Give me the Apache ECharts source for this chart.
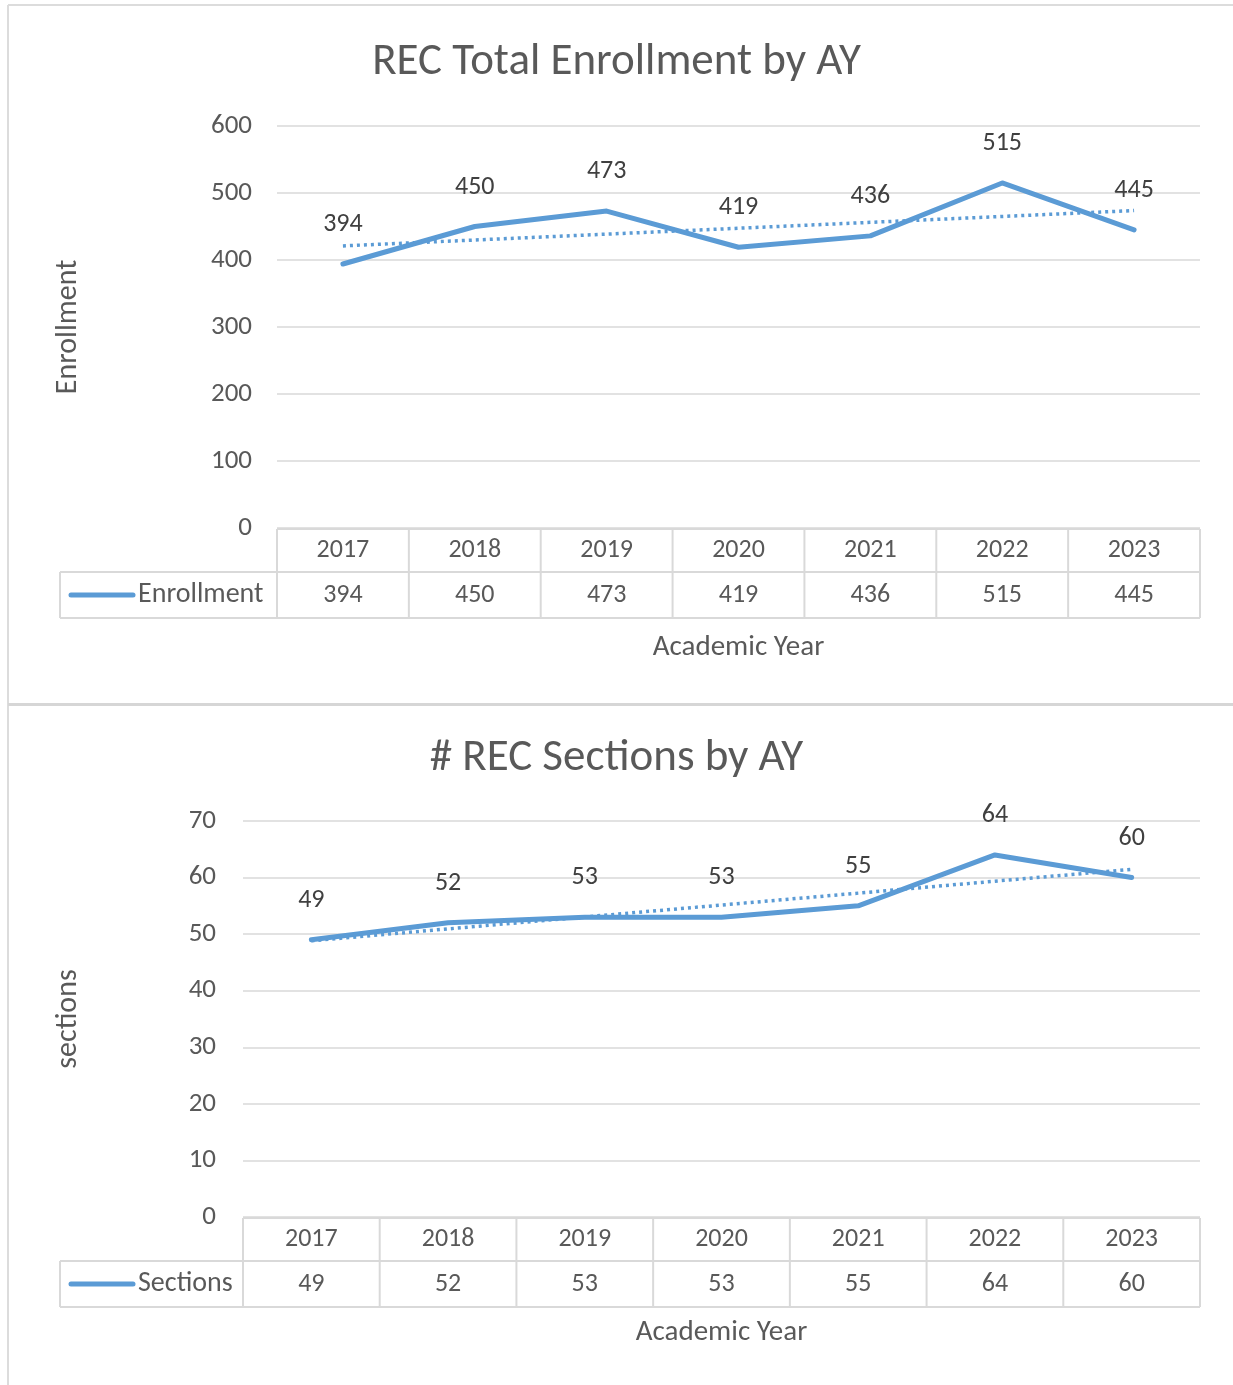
<!DOCTYPE html>
<html>
<head>
<meta charset="utf-8">
<script src="https://cdn.jsdelivr.net/npm/echarts@6/dist/echarts.min.js"></script>
<style>
  html, body { margin: 0; padding: 0; background: #fff; }
  #main { width: 1233px; height: 1385px; }
</style>
</head>
<body>
<div id="main"></div>
<script>
var years = ['2017', '2018', '2019', '2020', '2021', '2022', '2023'];
var enrollment = [394, 450, 473, 419, 436, 515, 445];
var sections = [49, 52, 53, 53, 55, 64, 60];

var FONT = 'Carlito, Calibri, Lato, sans-serif';
var BLUE = '#5B9BD5';
var GRID_GRAY = '#d9d9d9';

// linear trendline like Excel
function trend(vals) {
  var n = vals.length, sx = 0, sy = 0, sxy = 0, sxx = 0;
  vals.forEach(function (v, i) { sx += i; sy += v; sxy += i * v; sxx += i * i; });
  var b = (n * sxy - sx * sy) / (n * sxx - sx * sx);
  var a = (sy - b * sx) / n;
  return vals.map(function (v, i) { return +(a + b * i).toFixed(2); });
}

var chartDom = document.getElementById('main');
var myChart = echarts.init(chartDom);

function xAxisOpt(gridIndex, nameGap) {
  return {
    gridIndex: gridIndex,
    type: 'category',
    data: years,
    boundaryGap: true,
    axisLine: { show: false },
    axisTick: { show: false },
    axisLabel: { fontFamily: FONT, fontSize: 26, color: '#595959', margin: 9 },
    name: 'Academic Year',
    nameLocation: 'middle',
    nameGap: nameGap,
    nameTextStyle: { fontFamily: FONT, fontSize: 29, color: '#595959' }
  };
}

function yAxisOpt(gridIndex, max, interval, name, nameGap, margin) {
  return {
    gridIndex: gridIndex,
    type: 'value',
    min: 0,
    max: max,
    interval: interval,
    axisLine: { show: false },
    axisTick: { show: false },
    axisLabel: { fontFamily: FONT, fontSize: 27, color: '#595959', margin: margin },
    splitLine: { lineStyle: { color: GRID_GRAY, width: 1.5 } },
    name: name,
    nameLocation: 'middle',
    nameGap: nameGap,
    nameRotate: 90,
    nameTextStyle: { fontFamily: FONT, fontSize: 30, color: '#595959' }
  };
}

function mainSeries(idx, data) {
  return {
    type: 'line',
    xAxisIndex: idx,
    yAxisIndex: idx,
    data: data,
    symbol: 'circle',
    symbolSize: 1,
    itemStyle: { color: BLUE },
    z: 3,
    lineStyle: { color: BLUE, width: 5, cap: 'round', join: 'round' },
    label: {
      show: true,
      position: 'top',
      distance: 26,
      fontFamily: FONT,
      fontSize: 26,
      color: '#404040'
    }
  };
}

function trendSeries(idx, data) {
  return {
    type: 'line',
    xAxisIndex: idx,
    yAxisIndex: idx,
    data: trend(data),
    symbol: 'none',
    silent: true,
    z: 2,
    lineStyle: { color: BLUE, width: 3.5, type: [3, 4] }
  };
}

var option = {
  animation: false,
  backgroundColor: '#fff',
  title: [
    {
      text: 'REC Total Enrollment by AY',
      left: 'center',
      top: 35,
      textStyle: { fontFamily: FONT, fontSize: 45, fontWeight: 'normal', color: '#595959' }
    },
    {
      text: '# REC Sections by AY',
      left: 'center',
      top: 731,
      textStyle: { fontFamily: FONT, fontSize: 45, fontWeight: 'normal', color: '#595959' }
    }
  ],
  grid: [
    { left: 277, right: 33, top: 126, height: 402 },
    { left: 243, right: 33, top: 821, height: 396 }
  ],
  xAxis: [xAxisOpt(0, 105), xAxisOpt(1, 101)],
  yAxis: [
    yAxisOpt(0, 600, 100, 'Enrollment', 194, 25),
    yAxisOpt(1, 70, 10, 'sections', 160, 27)
  ],
  series: [
    trendSeries(0, enrollment),
    mainSeries(0, enrollment),
    trendSeries(1, sections),
    mainSeries(1, sections)
  ]
};

myChart.setOption(option);

// data tables under each plot, placed from the axes
function tableGraphics(idx, values, label, tableLeft) {
  var els = [];
  var p0 = myChart.convertToPixel({ gridIndex: idx }, [0, 0]);
  var p1 = myChart.convertToPixel({ gridIndex: idx }, [1, 0]);
  var step = p1[0] - p0[0];
  var left = p0[0] - step / 2;
  var right = left + step * years.length;
  var top = p0[1] + 1;
  var mid = top + 43;
  var bottom = mid + 46;
  var ls = { stroke: GRID_GRAY, lineWidth: 2 };

  function line(x1, y1, x2, y2) {
    els.push({ type: 'line', shape: { x1: x1, y1: y1, x2: x2, y2: y2 }, style: ls, silent: true });
  }
  line(left, top, right, top);
  line(tableLeft, mid, right, mid);
  line(tableLeft, bottom, right, bottom);
  line(tableLeft, mid, tableLeft, bottom);
  for (var i = 0; i <= years.length; i++) {
    var x = left + i * step;
    line(x, top, x, bottom);
  }
  values.forEach(function (v, i) {
    els.push({
      type: 'text',
      x: left + step * (i + 0.5),
      y: (mid + bottom) / 2,
      style: {
        text: String(v), fontFamily: FONT, fontSize: 26, fill: '#595959',
        align: 'center', verticalAlign: 'middle'
      },
      silent: true
    });
  });
  // legend key
  els.push({
    type: 'line',
    shape: { x1: tableLeft + 11, y1: (mid + bottom) / 2, x2: tableLeft + 73, y2: (mid + bottom) / 2 },
    style: { stroke: BLUE, lineWidth: 5, lineCap: 'round' },
    silent: true
  });
  els.push({
    type: 'text',
    x: tableLeft + 78,
    y: (mid + bottom) / 2,
    style: {
      text: label, fontFamily: FONT, fontSize: 28, fill: '#595959',
      align: 'left', verticalAlign: 'middle'
    },
    silent: true
  });
  return els;
}

var frame = [
  { type: 'line', shape: { x1: 8, y1: 5, x2: 1233, y2: 5 }, style: { stroke: '#dcdcdc', lineWidth: 2 }, silent: true },
  { type: 'line', shape: { x1: 8, y1: 5, x2: 8, y2: 1385 }, style: { stroke: '#dcdcdc', lineWidth: 2 }, silent: true },
  { type: 'line', shape: { x1: 8, y1: 704.5, x2: 1233, y2: 704.5 }, style: { stroke: '#d6d6d6', lineWidth: 3 }, silent: true }
];

myChart.setOption({
  graphic: frame
    .concat(tableGraphics(0, enrollment, 'Enrollment', 60))
    .concat(tableGraphics(1, sections, 'Sections', 60))
});
</script>
</body>
</html>
